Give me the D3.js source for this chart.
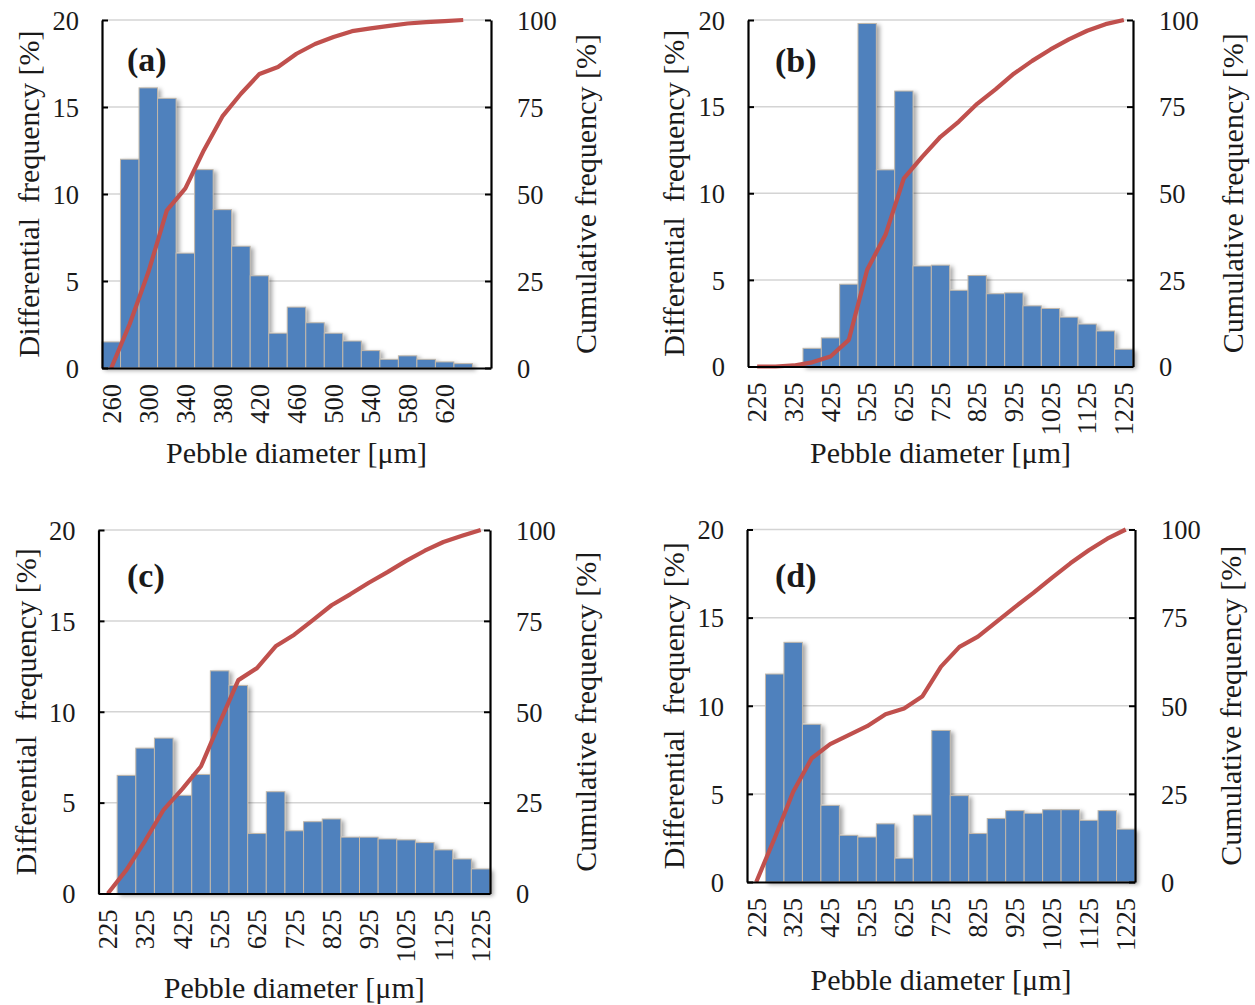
<!DOCTYPE html>
<html>
<head>
<meta charset="utf-8">
<script src="https://cdn.jsdelivr.net/npm/d3@7/dist/d3.min.js"></script>
<style>
  html, body { margin: 0; padding: 0; background: #fff; }
  svg text { font-family: "Liberation Serif", "Times New Roman", serif; fill: #1a1a1a; }
</style>
</head>
<body>
<svg id="chart" width="1255" height="1005"></svg>
<script>
// Pebble size distributions: differential (bars, left axis) and cumulative (line, right axis)

// Category (bin) labels
const catsA = [260, 280, 300, 320, 340, 360, 380, 400, 420, 440, 460, 480, 500, 520, 540, 560, 580, 600, 620, 640];
const catsBCD = [225, 275, 325, 375, 425, 475, 525, 575, 625, 675, 725, 775, 825, 875, 925, 975, 1025, 1075, 1125, 1175, 1225];

// Differential frequency [%]
const diffA = [1.5, 12.0, 16.1, 15.5, 6.6, 11.4, 9.1, 7.0, 5.3, 2.0, 3.5, 2.6, 2.0, 1.55, 1.0, 0.5, 0.7, 0.5, 0.35, 0.25];
const diffB = [0, 0, 0, 1.05, 1.65, 4.75, 19.8, 11.35, 15.9, 5.8, 5.85, 4.4, 5.25, 4.2, 4.25, 3.5, 3.35, 2.85, 2.45, 2.05, 1.0];
const diffC = [0, 6.5, 8.0, 8.55, 5.4, 6.55, 12.25, 11.45, 3.3, 5.6, 3.45, 3.95, 4.1, 3.1, 3.1, 3.0, 2.95, 2.8, 2.4, 1.9, 1.35];
const diffD = [0, 11.8, 13.6, 8.95, 4.35, 2.65, 2.55, 3.3, 1.35, 3.8, 8.6, 4.9, 2.75, 3.6, 4.05, 3.9, 4.1, 4.1, 3.5, 4.05, 3.0];

// Cumulative frequency [%]
const cumA = [0, 12.7, 27.5, 45.3, 51.6, 62.6, 72.3, 78.8, 84.5, 86.5, 90.3, 93.1, 95.1, 96.8, 97.6, 98.3, 99.0, 99.4, 99.7, 100];
const cumB = [0, 0, 0.3, 1.2, 2.9, 7.7, 27.9, 38.0, 54.3, 60.5, 66.3, 70.7, 75.8, 80.0, 84.5, 88.2, 91.5, 94.4, 96.9, 98.8, 100];
const cumC = [0, 6.5, 14.5, 23.1, 28.8, 35.0, 47.0, 58.7, 62.0, 68.0, 71.2, 75.2, 79.3, 82.3, 85.5, 88.4, 91.5, 94.3, 96.7, 98.4, 100];
const cumD = [0, 12.5, 25.6, 35.1, 39.1, 41.7, 44.2, 47.6, 49.2, 52.7, 61.1, 66.7, 69.6, 73.8, 78.0, 82.0, 86.3, 90.4, 94.1, 97.4, 100];

// Axis ticks and texts
const diffTicks = [0, 5, 10, 15, 20];
const cumTicks = [0, 25, 50, 75, 100];
const panelLabels = ["(a)", "(b)", "(c)", "(d)"];
const xTitle = "Pebble diameter [\u03bcm]";
const yLeftTitle = "Differential  frequency [%]";
const yRightTitle = "Cumulative frequency [%]";

const svg = d3.select("#chart");
svg.append("rect").attr("width", 1255).attr("height", 1005).attr("fill", "#fff");

const defs = svg.append("defs");
const shadow = defs.append("filter").attr("id", "barShadow")
  .attr("x", "-20%").attr("y", "-20%").attr("width", "140%").attr("height", "140%");
shadow.append("feDropShadow").attr("dx", 3).attr("dy", 2).attr("stdDeviation", 2)
  .attr("flood-color", "#000").attr("flood-opacity", 0.35);

const SLOTS = 21;           // category slots on every x axis
const TICK_FS = 26.5, TITLE_FS = 30, LABEL_FS = 34;

const panels = [
  { cats: catsA,   diff: diffA, cum: cumA, label: panelLabels[0],
    l: 102, r: 491, t: 20, b: 368, xTitleY: 463, labelX: 127, labelY: 71, leftTitleX: 28, rightTitleX: 585 },
  { cats: catsBCD, diff: diffB, cum: cumB, label: panelLabels[1],
    l: 748, r: 1133, t: 20, b: 366.5, xTitleY: 463, labelX: 775, labelY: 72, leftTitleX: 673, rightTitleX: 1232 },
  { cats: catsBCD, diff: diffC, cum: cumC, label: panelLabels[2],
    l: 98.5, r: 490, t: 530, b: 893.5, xTitleY: 998, labelX: 127, labelY: 587, leftTitleX: 25, rightTitleX: 585 },
  { cats: catsBCD, diff: diffD, cum: cumD, label: panelLabels[3],
    l: 747, r: 1135, t: 529.5, b: 882, xTitleY: 990, labelX: 775, labelY: 587, leftTitleX: 673, rightTitleX: 1230 }
];

panels.forEach(drawPanel);

function drawPanel(p) {
  const g = svg.append("g");
  const x = d3.scaleBand().domain(d3.range(SLOTS)).range([p.l, p.r]).paddingInner(0).paddingOuter(0);
  const yL = d3.scaleLinear().domain([0, 20]).range([p.b, p.t]);
  const yR = d3.scaleLinear().domain([0, 100]).range([p.b, p.t]);
  const bw = x.bandwidth();

  // horizontal gridlines
  g.append("g").selectAll("line").data(diffTicks.filter(d => d > 0)).join("line")
    .attr("x1", p.l).attr("x2", p.r)
    .attr("y1", d => yL(d)).attr("y2", d => yL(d))
    .attr("stroke", "#d4d4d4").attr("stroke-width", 1.5);

  // differential bars
  g.append("g").attr("filter", "url(#barShadow)")
    .selectAll("rect").data(p.diff.map((v, i) => ({ v, i })).filter(d => d.v > 0)).join("rect")
    .attr("x", d => x(d.i)).attr("width", bw)
    .attr("y", d => yL(d.v)).attr("height", d => p.b - yL(d.v))
    .attr("fill", "#4f81bd").attr("stroke", "#c2b8aa").attr("stroke-width", 1);

  // cumulative curve
  const line = d3.line().x((d, i) => x(i) + bw / 2).y(d => yR(d));
  g.append("path").datum(p.cum).attr("d", line)
    .attr("fill", "none").attr("stroke", "#c0504d").attr("stroke-width", 4.2)
    .attr("stroke-linejoin", "round").attr("stroke-linecap", "butt");

  // left axis (ticks point inward)
  const axL = g.append("g").attr("transform", `translate(${p.l},0)`)
    .call(d3.axisLeft(yL).tickValues(diffTicks).tickSizeInner(-6).tickSizeOuter(0).tickPadding(23));
  // right axis
  const axR = g.append("g").attr("transform", `translate(${p.r},0)`)
    .call(d3.axisRight(yR).tickValues(cumTicks).tickSizeInner(-6).tickSizeOuter(0).tickPadding(26));
  // bottom category axis
  const labelled = d3.range(SLOTS).filter(i => i % 2 === 0 && i < p.cats.length);
  const axB = g.append("g").attr("transform", `translate(0,${p.b})`)
    .call(d3.axisBottom(x).tickValues(labelled).tickFormat(i => p.cats[i]).tickSize(0).tickSizeOuter(0));
  axB.selectAll("text")
    .attr("transform", "rotate(-90)").attr("x", -16).attr("y", 0).attr("dy", "0.35em")
    .attr("text-anchor", "end");

  [axL, axR, axB].forEach(a => {
    a.select(".domain").attr("stroke", "#000").attr("stroke-width", 2.2);
    a.selectAll(".tick line").attr("stroke", "#000").attr("stroke-width", 2);
    a.selectAll("text").attr("font-size", TICK_FS).attr("fill", "#1a1a1a")
      .style("font-family", "'Liberation Serif', serif");
  });
  axL.selectAll("text").attr("dy", "0.35em");
  axR.selectAll("text").attr("dy", "0.35em");

  const midY = (p.t + p.b) / 2;
  // axis titles
  g.append("text").attr("x", (p.l + p.r) / 2).attr("y", p.xTitleY)
    .attr("text-anchor", "middle").attr("font-size", TITLE_FS).text(xTitle);
  g.append("text").attr("transform", `translate(${p.leftTitleX},${midY}) rotate(-90)`)
    .attr("dy", "0.35em").attr("text-anchor", "middle").attr("font-size", TITLE_FS)
    .style("white-space", "pre").text(yLeftTitle);
  g.append("text").attr("transform", `translate(${p.rightTitleX},${midY}) rotate(-90)`)
    .attr("dy", "0.35em").attr("text-anchor", "middle").attr("font-size", TITLE_FS)
    .text(yRightTitle);

  // panel label
  g.append("text").attr("x", p.labelX).attr("y", p.labelY)
    .attr("font-size", LABEL_FS).attr("font-weight", "bold").attr("fill", "#000").text(p.label);
}
</script>
</body>
</html>
